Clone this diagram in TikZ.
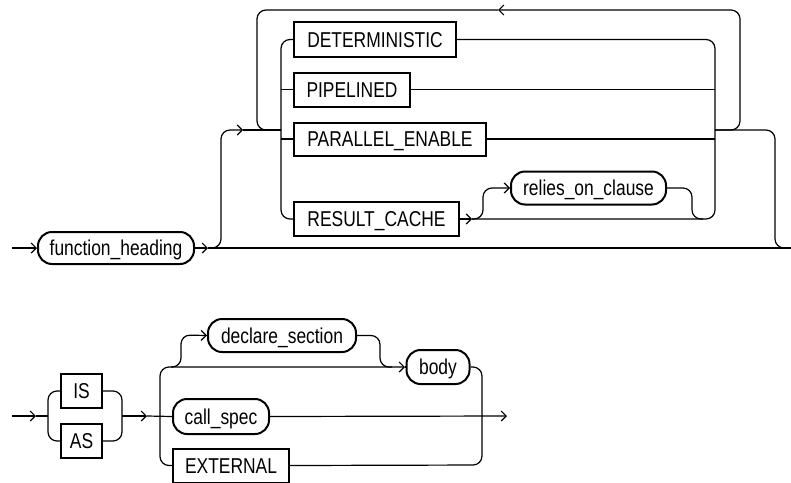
\documentclass[tikz,border=0pt]{standalone}
\usepackage{fontspec}
\setmainfont[FakeStretch=0.81]{Liberation Sans}
\usetikzlibrary{arrows.meta}
\begin{document}
\begin{tikzpicture}[x=1pt,y=-1pt,line width=1.2pt,
  kw/.style={draw,rectangle,line width=2pt,inner sep=0pt,text height=15.6pt,text depth=0pt,
    font=\fontsize{21.5}{24}\selectfont},
  nt/.style={kw,rounded corners=14pt},
  arr/.style={-{Straight Barb[length=5pt,width=10pt]}},
  rnd/.style={rounded corners=9pt}]
\clip (0,0) rectangle (791,482);
% ---------- nodes, top diagram
\node[nt,minimum width=156pt,minimum height=32pt] (fh) at (116,248) {function\_heading};
\node[kw,minimum width=162pt,minimum height=35pt] (det) at (375,39.5) {DETERMINISTIC};
\node[kw,minimum width=116pt,minimum height=34pt] (pip) at (352,89.5) {PIPELINED};
\node[kw,minimum width=192pt,minimum height=33pt] (par) at (390,139) {PARALLEL\_ENABLE};
\node[kw,minimum width=165pt,minimum height=34pt] (rc) at (376.5,219) {RESULT\_CACHE};
\node[nt,minimum width=155pt,minimum height=33pt] (roc) at (588.5,188) {relies\_on\_clause};
% ---------- nodes, bottom diagram
\node[kw,minimum width=41pt,minimum height=34pt] (is) at (81.5,391) {IS};
\node[kw,minimum width=41pt,minimum height=34pt] (as) at (81.5,441) {AS};
\node[nt,minimum width=148pt,minimum height=33pt] (ds) at (282,335.5) {declare\_section};
\node[nt,minimum width=63pt,minimum height=34pt] (body) at (438,367) {body};
\node[nt,minimum width=96pt,minimum height=35pt] (cs) at (221,416.5) {call\_spec};
\node[kw,minimum width=116pt,minimum height=34pt] (ext) at (231,465.5) {EXTERNAL};
% ---------- top connectors
\coordinate (in1) at (12,248);
\coordinate (a1) at (208,248);
\coordinate (out1) at (791,248);
\coordinate (b1) at (243,130);
\coordinate (j1) at (281,130);
\coordinate (j2) at (715,130);
\coordinate (rca) at (472,219);
\coordinate (la) at (498,10);
\draw[arr] (in1) -- (fh.west);
\draw[arr] (fh.east) -- (a1);
\draw (a1) -- (out1);
\draw[arr,rnd] (a1) -| (221,130) -- (b1);
\draw (b1) -- (j1);
\draw[rnd] (det.west) -| (j1);
\draw[rnd] (rc.west) -| (j1);
\draw (pip.west) -- (pip.west -| j1);
\draw (par.west) -- (par.west -| j1);
\draw[rnd] (det.east) -| (j2);
\draw[arr] (rc.east) -- (rca);
\draw[rnd] (rca) -| (j2);
\draw (pip.east) -- (pip.east -| j2);
\draw (par.east) -- (par.east -| j2);
\draw[arr,rnd] (rca) -| (483,188) -- (roc.west);
\draw[rnd] (roc.east) -| (692,219) -- (703,219);
\draw[arr,rnd] (j2) -| (740,10) -- (la);
\draw[rnd] (la) -| (257,130) -- (j1);
\draw[rnd] (j2) -| (775,248) -- (out1);
% ---------- bottom connectors
\coordinate (in2) at (12,416);
\coordinate (a2) at (36,416);
\coordinate (j3) at (48,416);
\coordinate (j4) at (122,416);
\coordinate (a3) at (147,416);
\coordinate (j5) at (160,416);
\coordinate (a4) at (405,367);
\coordinate (out2) at (507,416);
\draw[arr] (in2) -- (a2);
\draw (a2) -- (j3);
\draw[rnd] (is.west) -| (j3);
\draw[rnd] (as.west) -| (j3);
\draw[rnd] (is.east) -| (j4);
\draw[rnd] (as.east) -| (j4);
\draw[arr] (j4) -- (a3);
\draw (a3) -- (cs.west);
\draw[arr,rnd] (j5) |- (a4);
\draw (a4) -- (body.west);
\draw[arr,rnd] (171,367) -| (181,335) -- (ds.west);
\draw[rnd] (ds.east) -| (380,367) -- (392,367);
\draw[rnd] (body.east) -| (482,465) -- (ext.east);
\draw[rnd] (ext.west) -| (j5);
\draw[arr] (cs.east) -- (out2);
\end{tikzpicture}
\end{document}
